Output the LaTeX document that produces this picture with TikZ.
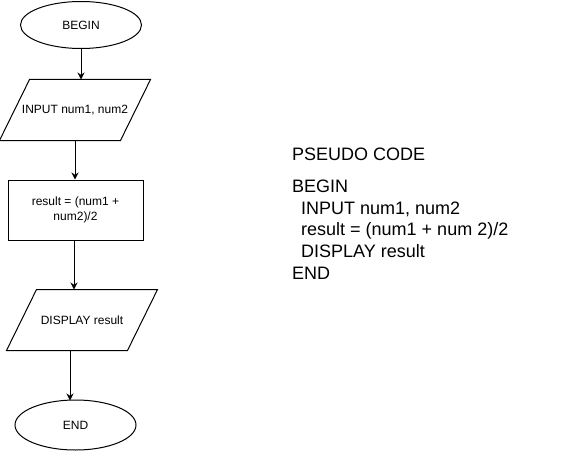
\documentclass[tikz,border=0pt]{standalone}
\usepackage{fontspec}
\setmainfont{Liberation Sans}
\usetikzlibrary{shapes.geometric}
\usetikzlibrary{arrows.meta}

\begin{document}
\begin{tikzpicture} [x=1pt, y=-1pt,
  flow/.style={line width=1pt, inner sep=0pt, font=\fontsize{12}{14.4}\selectfont},
  term/.style={flow, draw, ellipse},
  iobox/.style={flow, rectangle, minimum width=120pt, minimum height=60pt},
  procbox/.style={flow, draw, rectangle, minimum width=135pt, minimum height=60pt, align=center},
  arr/.style={line width=1pt, -{Stealth[length=7pt,width=7pt]}},
  code/.style={inner sep=0pt, anchor=base west, font=\fontsize{18}{21.6}\selectfont}]
\useasboundingbox (0,0) rectangle (581,452);
\node[term, minimum width=121pt, minimum height=47pt] (begin) at (81,25) {BEGIN};
\node[iobox] (input) at (75,110) {INPUT num1, num2};
\node[procbox] (calc) at (75.5,210) {result = (num1 +\\ num2)/2};
\node[iobox] (disp) at (82,320) {DISPLAY result};
\node[term, minimum width=121pt, minimum height=50pt] (end) at (75.5,425) {END};
\foreach \n in {input,disp} {
 \draw[line width=1pt, line join=miter] ([xshift=-15pt]\n.south west) -- ([xshift=15pt]\n.north west)
   -- ([xshift=15pt]\n.north east) -- ([xshift=-15pt]\n.south east) -- cycle;
}
\draw[arr] (begin.south) -- (begin.south |- input.north);
\draw[arr] (input.south) -- (input.south |- calc.north);
\draw[arr] ([xshift=-1.5pt]calc.south) -- ([xshift=-1.5pt]calc.south |- disp.north);
\draw[arr] ([xshift=-5.5pt]end.north |- disp.south) -- ([xshift=-5.5pt,yshift=-1pt]end.north);
\node[code] (title) at (292,160.2) {PSEUDO CODE};
\node[code] (l1) at (292,192.6) {BEGIN};
\node[code] (l2) at (301,214.2) {INPUT num1, num2};
\node[code] (l3) at (301,235.8) {result = (num1 + num 2)/2};
\node[code] (l4) at (301,257.4) {DISPLAY result};
\node[code] (l5) at (292,279) {END};
\end{tikzpicture}
\end{document}
